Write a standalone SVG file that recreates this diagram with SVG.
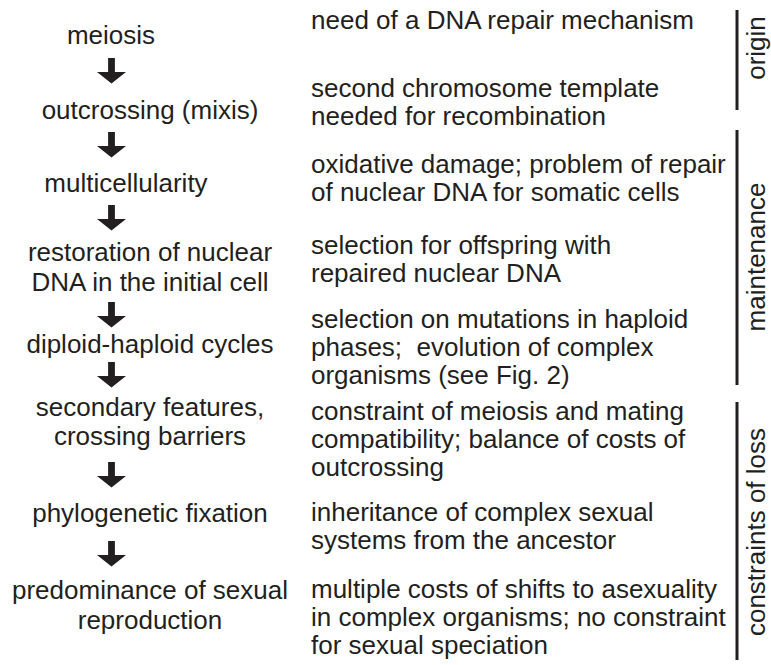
<svg xmlns="http://www.w3.org/2000/svg" xmlns:xlink="http://www.w3.org/1999/xlink" width="771" height="665" viewBox="0 0 771 665">
<style>
text{font-family:"Liberation Sans",Arial,Helvetica,sans-serif;font-size:26px;fill:#231f20}
.c{text-anchor:middle}
.bar{stroke:#231f20;stroke-width:3;fill:none}
.arr{fill:#231f20}
</style>
<defs>
<path id="arrow" d="M-3.4,0 H3.4 V14 H14.5 L0,25.5 L-14.5,14 H-3.4 Z"/>
</defs>
<rect width="771" height="665" fill="#ffffff"/>
<g id="steps">
<g id="n1"><text class="c" x="111" y="44">meiosis</text></g>
<g id="n2"><text class="c" x="150" y="119">outcrossing (mixis)</text></g>
<g id="n3"><text class="c" x="126" y="192">multicellularity</text></g>
<g id="n4"><text class="c" x="150" y="261">restoration of nuclear</text><text class="c" x="150" y="291">DNA in the initial cell</text></g>
<g id="n5"><text class="c" x="150" y="353">diploid-haploid cycles</text></g>
<g id="n6"><text class="c" x="150" y="416">secondary features,</text><text class="c" x="150" y="445">crossing barriers</text></g>
<g id="n7"><text class="c" x="150" y="522">phylogenetic fixation</text></g>
<g id="n8"><text class="c" x="150" y="599">predominance of sexual</text><text class="c" x="150" y="629">reproduction</text></g>
</g>
<g id="connectors" class="arr">
<use xlink:href="#arrow" href="#arrow" x="111.5" y="58"/>
<use xlink:href="#arrow" href="#arrow" x="111.5" y="132"/>
<use xlink:href="#arrow" href="#arrow" x="111.5" y="205"/>
<use xlink:href="#arrow" href="#arrow" x="111.5" y="302"/>
<use xlink:href="#arrow" href="#arrow" x="111.5" y="362"/>
<use xlink:href="#arrow" href="#arrow" x="111.5" y="462"/>
<use xlink:href="#arrow" href="#arrow" x="111.5" y="541"/>
</g>
<g id="reasons">
<g id="r1"><text x="311" y="29">need of a DNA repair mechanism</text></g>
<g id="r2"><text x="311" y="97">second chromosome template</text><text x="311" y="125">needed for recombination</text></g>
<g id="r3"><text x="311" y="173">oxidative damage; problem of repair</text><text x="311" y="201">of nuclear DNA for somatic cells</text></g>
<g id="r4"><text x="311" y="254">selection for offspring with</text><text x="311" y="282">repaired nuclear DNA</text></g>
<g id="r5"><text x="311" y="328">selection on mutations in haploid</text><text x="311" y="356" xml:space="preserve">phases;  evolution of complex</text><text x="311" y="384">organisms (see Fig. 2)</text></g>
<g id="r6"><text x="311" y="420">constraint of meiosis and mating</text><text x="311" y="448">compatibility; balance of costs of</text><text x="311" y="476">outcrossing</text></g>
<g id="r7"><text x="311" y="521">inheritance of complex sexual</text><text x="311" y="549">systems from the ancestor</text></g>
<g id="r8"><text x="311" y="598">multiple costs of shifts to asexuality</text><text x="311" y="626">in complex organisms; no constraint</text><text x="311" y="654">for sexual speciation</text></g>
</g>
<g id="phases">
<g id="origin"><line class="bar" x1="737" y1="10" x2="737" y2="110"/><text class="c" transform="translate(765,48) rotate(-90)">origin</text></g>
<g id="maintenance"><line class="bar" x1="737" y1="130" x2="737" y2="385"/><text class="c" transform="translate(765,257) rotate(-90)">maintenance</text></g>
<g id="constraints"><line class="bar" x1="737" y1="402" x2="737" y2="660"/><text class="c" transform="translate(765,532) rotate(-90)">constraints of loss</text></g>
</g>
</svg>
